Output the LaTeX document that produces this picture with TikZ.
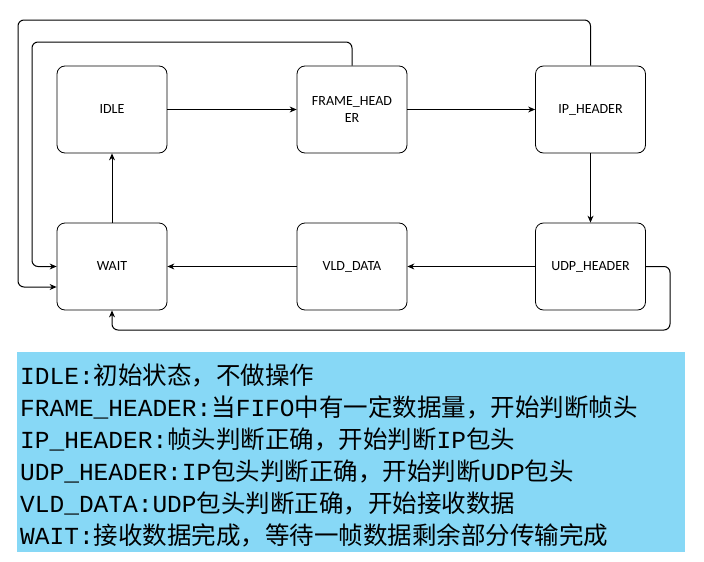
\documentclass[tikz,border=0pt]{standalone}
\usepackage{fontspec}
\setmainfont{Carlito}
\newfontfamily\cjk{Noto Sans CJK SC}
\newfontfamily\mono{Liberation Mono}
\usetikzlibrary{arrows.meta}
\begin{document}
\begin{tikzpicture}[x=1pt,y=-1pt,
  st/.style={draw,rounded corners=8pt,minimum width=110pt,minimum height=87pt,align=center,font=\fontsize{14}{17}\selectfont,line width=0.8pt},
  ar/.style={-{Stealth[length=7pt,width=6pt]},line width=1pt,rounded corners=6pt}]
\useasboundingbox (0,0) rectangle (704,562);
\node[st] (idle) at (112,109.5) {IDLE};
\node[st] (frame) at (352,109.5) {FRAME\_HEAD\\ER};
\node[st] (ip) at (590.5,109.5) {IP\_HEADER};
\node[st] (wait) at (112,266.5) {WAIT};
\node[st] (vld) at (352,266.5) {VLD\_DATA};
\node[st] (udp) at (590.5,266.5) {UDP\_HEADER};
\draw[ar] (idle) -- (frame);
\draw[ar] (frame) -- (ip);
\draw[ar] (ip) -- (udp);
\draw[ar] (udp) -- (vld);
\draw[ar] (vld) -- (wait);
\draw[ar] (wait) -- (idle);
\draw[ar] (ip.north) |- (18,20) |- (wait.west |- 0,287);
\draw[ar] (frame.north) |- (32,42) |- (wait.west);
\draw[ar] (udp.east) -| (670,330) -| (wait.south);
\node[fill={rgb,255:red,135;green,216;blue,246},minimum width=668pt,minimum height=200pt,anchor=north west,inner sep=0] (note) at (17,352) {};
\node[anchor=north west,align=left,font=\fontsize{24.5}{32}\selectfont,inner sep=0] (txt) at (20,364) {%
{\mono IDLE:}{\cjk 初始状态，不做操作}\\
{\mono FRAME\_HEADER:}{\cjk 当}{\mono FIFO}{\cjk 中有一定数据量，开始判断帧头}\\
{\mono IP\_HEADER:}{\cjk 帧头判断正确，开始判断}{\mono IP}{\cjk 包头}\\
{\mono UDP\_HEADER:IP}{\cjk 包头判断正确，开始判断}{\mono UDP}{\cjk 包头}\\
{\mono VLD\_DATA:UDP}{\cjk 包头判断正确，开始接收数据}\\
{\mono WAIT:}{\cjk 接收数据完成，等待一帧数据剩余部分传输完成}};
\end{tikzpicture}
\end{document}
